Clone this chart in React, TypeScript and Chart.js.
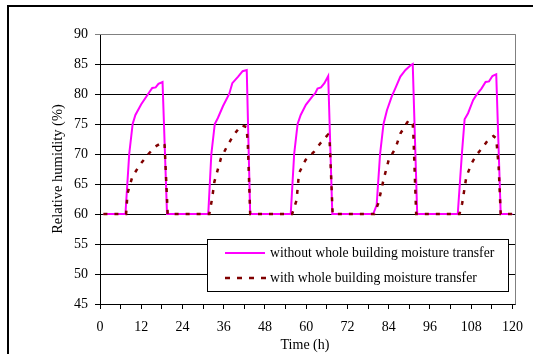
import React, { useEffect, useRef } from "react";
import { Chart, registerables } from "chart.js";

Chart.register(...registerables);

const FONT = '"Liberation Serif", "Times New Roman", serif';

// Axis ticks
const yTickValues = [45, 50, 55, 60, 65, 70, 75, 80, 85, 90];
const xTickValues = [0, 6, 12, 18, 24, 30, 36, 42, 48, 54, 60, 66, 72, 78, 84, 90, 96, 102, 108, 114, 120];
const xLabelStep = 12;

// Series: without whole building moisture transfer
const timeWithout = [
  1, 7.4, 8.5, 9.5, 10.3, 12, 14, 15.2, 16.2, 17, 18.2, 19.5,
  31.5, 32.4, 33.4, 34.3, 35.8, 37.6, 38.5, 40.2, 41.5, 42.7, 43.7,
  55.5, 56.5, 57.5, 58.4, 59.9, 61.8, 62.6, 63.3, 64.3, 65.3, 66.4, 67.6,
  79.5, 80.5, 81.5, 82.5, 83.5, 84.9, 85.9, 87.4, 88.9, 90.4, 91.0, 92.3,
  104.1, 105.3, 106.1, 107.1, 108.6, 109.5, 111, 112.2, 113.2, 114.2, 115.3, 116.6, 120,
];
const rhWithout = [
  60, 60, 70, 75, 76.5, 78.3, 80, 81, 81.1, 81.7, 82, 60,
  60, 70, 75, 76, 78, 80, 81.8, 82.9, 83.8, 84, 60,
  60, 70, 75, 76.5, 78.2, 79.6, 80.1, 80.9, 81.1, 81.8, 83, 60,
  60, 61.5, 70, 75, 77.3, 79.6, 80.9, 82.9, 84, 84.8, 85, 60,
  60, 70, 75.8, 76.8, 79, 79.8, 80.9, 82, 82.1, 83, 83.3, 60, 60,
];

// Series: with whole building moisture transfer
const timeWith = [
  1, 7.6, 8, 9.4, 11.6, 14.1, 16, 18.3, 18.8, 19.7,
  31.8, 32.6, 33.3, 35.2, 36.9, 38.7, 41.1, 42.6, 43.0, 43.7,
  55.9, 57.2, 57.9, 59.8, 62.3, 64.3, 66.3, 66.8, 67.7,
  79.8, 81, 82.5, 84, 86, 87.4, 88.9, 89.9, 91, 91.2, 92,
  104.6, 105.4, 106.6, 108.1, 109.5, 111.5, 113, 114.5, 115.3, 116, 116.6, 120,
];
const rhWith = [
  60, 60, 63.4, 66.2, 68.2, 70, 71.2, 72, 71.5, 60,
  60, 62.5, 65.4, 69.3, 71.2, 73, 74.8, 74.5, 72, 60,
  60, 62.3, 66.8, 69, 70.4, 71.9, 73.2, 72.5, 60,
  60, 61.8, 65.7, 69, 71, 73.4, 74.8, 75.7, 75, 73, 60,
  60, 61.8, 66.2, 68.4, 69.8, 71.2, 72.4, 73, 72.6, 67.9, 60, 60,
];

const seriesLabels = [
  "without whole building moisture transfer",
  "with whole building moisture transfer",
];
const xTitle = "Time (h)";
const yTitle = "Relative humidity (%)";

const PINK = "#ff00ff";
const DARKRED = "#800000";

const decorPlugin = {
  id: "decor",
  beforeDraw(chart: any) {
    const ctx = chart.ctx;
    ctx.save();
    ctx.fillStyle = "#ffffff";
    ctx.fillRect(0, 0, chart.width, chart.height);
    ctx.restore();
  },
  afterDraw(chart: any) {
    const ctx = chart.ctx;
    const a = chart.chartArea;
    ctx.save();
    // plot area border (top/right gray)
    ctx.strokeStyle = "#808080";
    ctx.lineWidth = 1;
    ctx.beginPath();
    ctx.moveTo(a.left, Math.round(a.top) + 0.5);
    ctx.lineTo(Math.round(a.right) + 0.5, Math.round(a.top) + 0.5);
    ctx.lineTo(Math.round(a.right) + 0.5, Math.round(a.bottom) + 0.5);
    ctx.stroke();

    // outer frame
    ctx.fillStyle = "#000";
    ctx.fillRect(7, 5, chart.width - 7, 2);
    ctx.fillRect(7, 5, 2, chart.height - 5);

    // titles
    ctx.fillStyle = "#000";
    ctx.font = `14px ${FONT}`;
    ctx.textAlign = "center";
    ctx.textBaseline = "middle";
    ctx.fillText(xTitle, 305, 345);
    ctx.save();
    ctx.translate(58, (a.top + a.bottom) / 2);
    ctx.rotate(-Math.PI / 2);
    ctx.font = `14.5px ${FONT}`;
    ctx.fillText(yTitle, 0, 0);
    ctx.restore();

    // legend
    const lx = 207, ly = 239, lw = 301, lh = 52;
    ctx.fillStyle = "#fff";
    ctx.fillRect(lx, ly, lw, lh);
    ctx.strokeStyle = "#000";
    ctx.lineWidth = 1;
    ctx.strokeRect(lx + 0.5, ly + 0.5, lw, lh);

    ctx.strokeStyle = PINK;
    ctx.lineWidth = 2;
    ctx.setLineDash([]);
    ctx.beginPath();
    ctx.moveTo(225, 253);
    ctx.lineTo(265, 253);
    ctx.stroke();

    ctx.strokeStyle = DARKRED;
    ctx.lineWidth = 2.5;
    ctx.setLineDash([5, 7]);
    ctx.beginPath();
    ctx.moveTo(225, 278);
    ctx.lineTo(266, 278);
    ctx.stroke();
    ctx.setLineDash([]);

    ctx.fillStyle = "#000";
    ctx.font = `13.7px ${FONT}`;
    ctx.textAlign = "left";
    ctx.textBaseline = "middle";
    ctx.fillText(seriesLabels[0], 270, 253);
    ctx.fillText(seriesLabels[1], 270, 278);
    ctx.restore();
  },
};

export default function App() {
  const ref = useRef<HTMLCanvasElement>(null);
  useEffect(() => {
    document.body.style.margin = "0";
    const canvas = ref.current!;
    const dataWithout = timeWithout.map((t, i) => ({ x: t, y: rhWithout[i] }));
    const dataWith = timeWith.map((t, i) => ({ x: t, y: rhWith[i] }));
    const chart = new Chart(canvas, {
      type: "line",
      data: {
        datasets: [
          {
            label: seriesLabels[0],
            data: dataWithout,
            borderColor: PINK,
            backgroundColor: PINK,
            borderWidth: 2,
            pointRadius: 0,
            tension: 0,
            order: 2,
          },
          {
            label: seriesLabels[1],
            data: dataWith,
            borderColor: DARKRED,
            backgroundColor: DARKRED,
            borderWidth: 2.5,
            borderDash: [4, 7],
            pointRadius: 0,
            tension: 0,
            order: 1,
          },
        ],
      },
      options: {
        animation: false,
        responsive: false,
        devicePixelRatio: 1,
        layout: { padding: { left: 0, top: 34, right: 15, bottom: 0 } },
        plugins: {
          legend: { display: false },
          tooltip: { enabled: false },
        },
        scales: {
          x: {
            type: "linear",
            min: 0,
            max: 120.9,
            afterBuildTicks: (s: any) => {
              s.ticks = xTickValues.map((v) => ({ value: v }));
            },
            afterFit: (s: any) => {
              s.height = 50;
            },
            ticks: {
              autoSkip: false,
              maxRotation: 0,
              padding: 10,
              color: "#000",
              font: { family: FONT, size: 14 },
              callback: (v: any) => (Number(v) % xLabelStep === 0 ? String(v) : ""),
            },
            grid: {
              drawOnChartArea: false,
              drawTicks: true,
              tickLength: 5,
              color: "#000",
            },
            border: { color: "#000", width: 1 },
          },
          y: {
            min: 45,
            max: 90,
            afterBuildTicks: (s: any) => {
              s.ticks = yTickValues.map((v) => ({ value: v }));
            },
            afterFit: (s: any) => {
              s.width = 100;
            },
            ticks: {
              padding: 7,
              color: "#000",
              font: { family: FONT, size: 14 },
            },
            grid: {
              color: (c: any) => (c.tick && c.tick.value === 90 ? "#808080" : "#000"),
              tickLength: 5,
              lineWidth: 1,
            },
            border: { color: "#000", width: 1 },
          },
        },
      },
      plugins: [decorPlugin],
    });
    return () => chart.destroy();
  }, []);
  return <canvas ref={ref} width={533} height={354} style={{ display: "block" }} />;
}
